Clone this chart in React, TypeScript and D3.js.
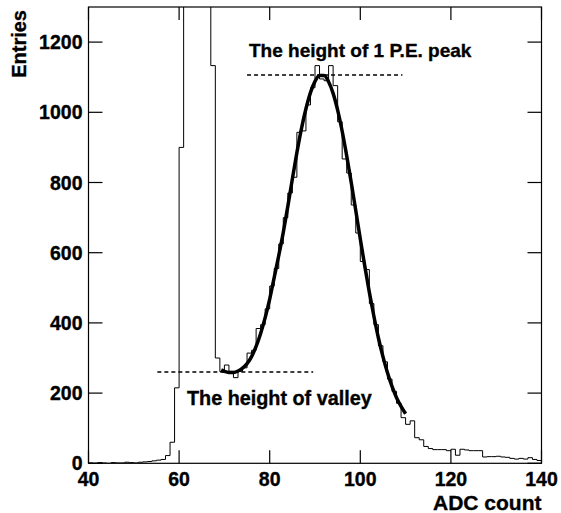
import React from 'react';
import * as d3 from 'd3';

// ADC histogram: bins of width 1 starting at 40
const binLow = 40;
const binWidth = 1;
const entries: number[] = [
  // 40-49
  1, 0, 2, 1, 0, 2, 1, 1, 3, 2,
  // 50-59
  1, 3, 4, 5, 7, 9, 11, 22, 60, 215,
  // 60-69
  900, 2400, 3800, 4500, 4000, 3000, 2100, 1133, 300, 261,
  // 70-79
  280, 262, 244, 262, 272, 314, 322, 384, 395, 440,
  // 80-89
  505, 555, 625, 700, 770, 815, 943, 947, 1021, 1070,
  // 90-99
  1133, 1095, 1090, 1133, 1076, 973, 867, 827, 736, 656,
  // 100-109
  575, 552, 455, 395, 335, 289, 240, 205, 171, 130,
  // 110-119
  111, 121, 73, 67, 48, 42, 39, 39, 39, 36,
  // 120-129
  40, 23, 40, 38, 36, 36, 36, 18, 19, 19,
  // 130-139
  20, 18, 17, 14, 12, 14, 12, 16, 11, 8,
];

// Fit curve points (ADC, entries)
const fitX: number[] = [
  69.3, 70, 71, 72, 73, 74, 75, 76, 77, 78, 79, 80, 81, 82, 83, 84, 85, 86, 87, 88, 89,
  90, 91, 92, 93, 94, 95, 96, 97, 98, 99, 100, 101, 102, 103, 104, 105, 106, 107, 108, 109, 110,
];
const fitY: number[] = [
  266, 262, 259, 259, 263, 271, 284, 304, 333, 370, 415, 468, 530, 592, 658, 732, 810, 885, 953, 1010, 1056,
  1088, 1105, 1105, 1087, 1054, 1006, 946, 876, 800, 720, 639, 561, 487, 419, 357, 304, 258, 219, 187, 162, 141,
];

const xTicks = [40, 60, 80, 100, 120, 140];
const yTicks = [0, 200, 400, 600, 800, 1000, 1200];

const peakLevel = 1106;
const peakFrom = 75.0;
const peakTo = 109.3;
const peakLabel = 'The height of 1 P.E. peak';

const valleyLevel = 260;
const valleyFrom = 55.2;
const valleyTo = 89.6;
const valleyLabel = 'The height of valley';

const xTitle = 'ADC count';
const yTitle = 'Entries';

const FONT = "'Liberation Sans', Arial, Helvetica, sans-serif";

export default function App() {
  const W = 561;
  const H = 513;
  const left = 88.5;
  const right = 541.5;
  const top = 7;
  const bottom = 463.3;

  const x = d3.scaleLinear().domain([40, 140]).range([left, right]);
  const y = d3.scaleLinear().domain([0, 1300]).range([bottom, top]);

  const p = d3.path();
  entries.forEach((v, i) => {
    const x0 = x(binLow + i * binWidth);
    const x1 = x(binLow + (i + 1) * binWidth);
    if (i === 0) p.moveTo(x0, y(v));
    else p.lineTo(x0, y(v));
    p.lineTo(x1, y(v));
  });

  const fitLine = d3
    .line<number>()
    .x((_, i) => x(fitX[i]))
    .y((d) => y(d))
    .curve(d3.curveMonotoneX);

  const xTickLen = 13;
  const yTickLen = 14;
  const heavy = { stroke: '#000', strokeWidth: 0.35 };

  return (
    <svg
      width={W}
      height={H}
      style={{ position: 'absolute', left: 0, top: 0, background: '#fff' }}
      fontFamily={FONT}
    >
      <rect x={0} y={0} width={W} height={H} fill="#fff" />
      <defs>
        <clipPath id="frameClip">
          <rect x={left} y={top} width={right - left} height={bottom - top} />
        </clipPath>
      </defs>

      <g clipPath="url(#frameClip)">
        <path d={p.toString()} fill="none" stroke="#000" strokeWidth={1} />
        <path d={fitLine(fitY) || ''} fill="none" stroke="#000" strokeWidth={3.5} strokeLinejoin="round" />
      </g>

      {/* dashed reference lines */}
      <line
        x1={x(peakFrom)}
        x2={x(peakTo)}
        y1={y(peakLevel)}
        y2={y(peakLevel)}
        stroke="#000"
        strokeWidth={1.5}
        strokeDasharray="4,3"
      />
      <line
        x1={x(valleyFrom)}
        x2={x(valleyTo)}
        y1={y(valleyLevel)}
        y2={y(valleyLevel)}
        stroke="#000"
        strokeWidth={1.5}
        strokeDasharray="4,3"
      />

      {/* frame */}
      <rect x={left} y={top} width={right - left} height={bottom - top} fill="none" stroke="#000" strokeWidth={1.2} />

      {/* x ticks */}
      {xTicks.map((t) => (
        <g key={'x' + t}>
          <line x1={x(t)} x2={x(t)} y1={bottom} y2={bottom - xTickLen} stroke="#000" strokeWidth={1.2} />
          <line x1={x(t)} x2={x(t)} y1={top} y2={top + xTickLen} stroke="#000" strokeWidth={1.2} />
          <text x={x(t)} y={486} textAnchor="middle" fontSize={19.5} fontWeight="bold" {...heavy}>
            {t}
          </text>
        </g>
      ))}

      {/* y ticks */}
      {yTicks.map((t) => (
        <g key={'y' + t}>
          <line x1={left} x2={left + yTickLen} y1={y(t)} y2={y(t)} stroke="#000" strokeWidth={1.2} />
          <line x1={right} x2={right - yTickLen} y1={y(t)} y2={y(t)} stroke="#000" strokeWidth={1.2} />
          <text x={82.5} y={y(t) + 7} textAnchor="end" fontSize={19.5} fontWeight="bold" {...heavy}>
            {t}
          </text>
        </g>
      ))}

      {/* axis titles */}
      <text x={right} y={510} textAnchor="end" fontSize={21} fontWeight="bold" {...heavy}>
        {xTitle}
      </text>
      <text transform="translate(25.5,10) rotate(-90)" textAnchor="end" fontSize={20} fontWeight="bold" {...heavy}>
        {yTitle}
      </text>

      {/* annotations */}
      <text x={249} y={57} fontSize={19} fontWeight="bold" {...heavy}>
        {peakLabel}
      </text>
      <text x={187} y={405} fontSize={19.8} fontWeight="bold" {...heavy}>
        {valleyLabel}
      </text>
    </svg>
  );
}
